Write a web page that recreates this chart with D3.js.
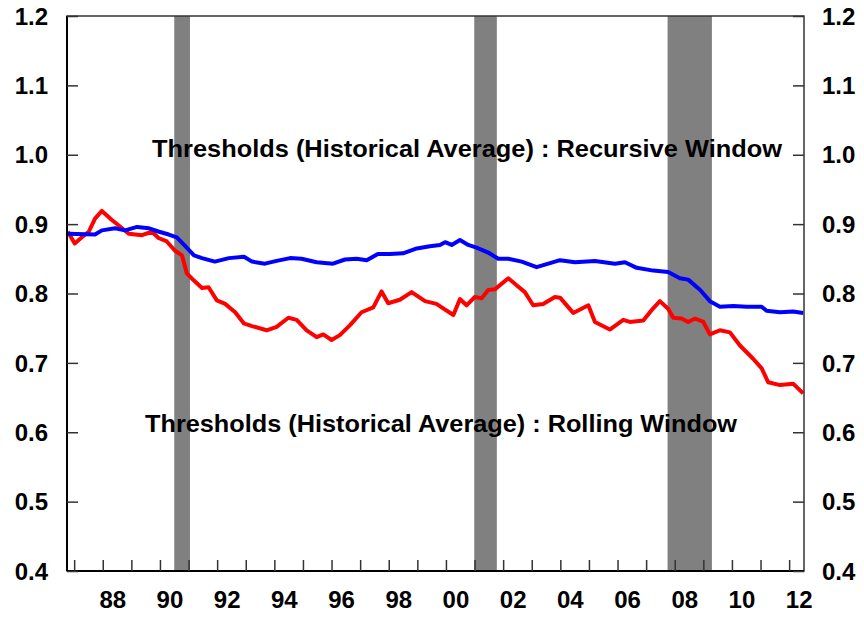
<!DOCTYPE html>
<html>
<head>
<meta charset="utf-8">
<script src="https://cdnjs.cloudflare.com/ajax/libs/d3/7.8.5/d3.min.js"></script>
<style>
  body { margin: 0; background: #fff; }
  svg text { font-family: 'Liberation Sans', Arial, sans-serif; font-weight: bold; fill: #000; }
</style>
</head>
<body>
<svg width="864" height="620"></svg>
<script>

// decimal year, threshold value
let recursive = [
    [1986.78, 0.886], [1987.73, 0.885], [1987.97, 0.891], [1988.43, 0.894], [1988.78, 0.891],
    [1989.20, 0.896], [1989.62, 0.894], [1989.97, 0.889], [1990.31, 0.885], [1990.59, 0.881],
    [1990.87, 0.869], [1991.19, 0.855], [1991.47, 0.851], [1991.92, 0.846], [1992.41, 0.851],
    [1992.94, 0.853], [1993.22, 0.846], [1993.67, 0.843], [1994.08, 0.847], [1994.55, 0.851],
    [1994.95, 0.850], [1995.48, 0.845], [1996.05, 0.843], [1996.47, 0.849], [1996.88, 0.850],
    [1997.23, 0.848], [1997.62, 0.857], [1998.04, 0.857], [1998.50, 0.858], [1998.98, 0.865],
    [1999.44, 0.868], [1999.79, 0.870], [1999.97, 0.874], [2000.20, 0.870], [2000.49, 0.877],
    [2000.78, 0.870], [2001.07, 0.866], [2001.48, 0.859], [2001.83, 0.850], [2002.18, 0.850],
    [2002.65, 0.846], [2003.17, 0.838], [2003.58, 0.843], [2003.99, 0.848], [2004.51, 0.845],
    [2005.21, 0.847], [2005.91, 0.843], [2006.26, 0.845], [2006.67, 0.837], [2007.25, 0.833],
    [2007.77, 0.831], [2008.18, 0.822], [2008.47, 0.820], [2008.89, 0.805], [2009.23, 0.789],
    [2009.58, 0.781], [2010.05, 0.782], [2010.51, 0.781], [2011.04, 0.781], [2011.21, 0.775],
    [2011.68, 0.773], [2012.14, 0.774], [2012.49, 0.772]
];

let rolling = [
    [1986.78, 0.889], [1987.02, 0.872], [1987.27, 0.881], [1987.51, 0.889], [1987.73, 0.908],
    [1987.97, 0.919], [1988.32, 0.906], [1988.56, 0.898], [1988.91, 0.886], [1989.37, 0.884],
    [1989.72, 0.889], [1989.95, 0.880], [1990.24, 0.875], [1990.52, 0.862], [1990.77, 0.855],
    [1990.94, 0.829], [1991.18, 0.819], [1991.47, 0.808], [1991.70, 0.809], [1991.99, 0.790],
    [1992.28, 0.785], [1992.63, 0.773], [1992.93, 0.757], [1993.22, 0.753], [1993.73, 0.747],
    [1994.08, 0.752], [1994.49, 0.765], [1994.78, 0.762], [1995.13, 0.747], [1995.48, 0.737],
    [1995.71, 0.741], [1996.00, 0.733], [1996.29, 0.740], [1996.64, 0.754], [1997.05, 0.773],
    [1997.46, 0.780], [1997.75, 0.803], [1997.98, 0.786], [1998.39, 0.791], [1998.80, 0.802],
    [1999.27, 0.789], [1999.67, 0.785], [1999.85, 0.780], [2000.26, 0.769], [2000.49, 0.792],
    [2000.72, 0.783], [2001.01, 0.795], [2001.25, 0.793], [2001.48, 0.805], [2001.71, 0.806],
    [2002.18, 0.822], [2002.47, 0.812], [2002.76, 0.802], [2003.05, 0.783], [2003.40, 0.785],
    [2003.81, 0.795], [2003.99, 0.794], [2004.45, 0.772], [2004.98, 0.783], [2005.21, 0.759],
    [2005.73, 0.748], [2006.20, 0.762], [2006.43, 0.759], [2006.90, 0.761], [2007.19, 0.776],
    [2007.48, 0.789], [2007.77, 0.778], [2007.95, 0.765], [2008.24, 0.764], [2008.47, 0.759],
    [2008.71, 0.764], [2009.00, 0.759], [2009.23, 0.741], [2009.58, 0.747], [2009.93, 0.744],
    [2010.28, 0.725], [2010.74, 0.706], [2011.04, 0.692], [2011.27, 0.672], [2011.68, 0.668],
    [2012.14, 0.670], [2012.49, 0.656]
];

let recessions = [[1990.50, 1991.05], [2000.99, 2001.78], [2007.75, 2009.30]];

let yTicks = [0.4, 0.5, 0.6, 0.7, 0.8, 0.9, 1.0, 1.1, 1.2];
let yearTicks = d3.range(1987, 2013);
let yearLabels = [1988, 1990, 1992, 1994, 1996, 1998, 2000, 2002, 2004, 2006, 2008, 2010, 2012];

let svg = d3.select('svg');
let margin = { top: 16, right: 60, bottom: 49, left: 67 };
let width = +svg.attr('width');
let height = +svg.attr('height');

let x = d3.scaleLinear()
    .domain([1986.75, 2012.52])
    .range([margin.left, width - margin.right]);

let y = d3.scaleLinear()
    .domain([0.4, 1.2])
    .range([height - margin.bottom, margin.top]);

// recession shading
svg.selectAll('rect.rec')
    .data(recessions)
    .enter().append('rect')
    .attr('class', 'rec')
    .attr('x', d => x(d[0]))
    .attr('width', d => x(d[1]) - x(d[0]))
    .attr('y', y(1.2))
    .attr('height', y(0.4) - y(1.2))
    .style('fill', '#808080');

let line = d3.line()
    .x(d => x(d[0]))
    .y(d => y(d[1]));

svg.append('path')
    .datum(rolling)
    .attr('d', line)
    .style('fill', 'none')
    .style('stroke', '#ff0000')
    .style('stroke-width', 4)
    .style('stroke-linejoin', 'round');

svg.append('path')
    .datum(recursive)
    .attr('d', line)
    .style('fill', 'none')
    .style('stroke', '#0000ff')
    .style('stroke-width', 4)
    .style('stroke-linejoin', 'round');

// frame
svg.append('rect')
    .attr('x', x.range()[0])
    .attr('y', y.range()[1])
    .attr('width', x.range()[1] - x.range()[0])
    .attr('height', y.range()[0] - y.range()[1])
    .style('fill', 'none')
    .style('stroke', '#333')
    .style('stroke-width', 1.5);

svg.append('line')
    .attr('x1', x.range()[0]).attr('x2', x.range()[0])
    .attr('y1', y.range()[1]).attr('y2', y.range()[0])
    .style('stroke', '#000').style('stroke-width', 2);
svg.append('line')
    .attr('x1', x.range()[0]).attr('x2', x.range()[1])
    .attr('y1', y.range()[0]).attr('y2', y.range()[0])
    .style('stroke', '#000').style('stroke-width', 2);

// y axes, ticks pointing inward
let yLeft = svg.append('g')
    .attr('transform', 'translate(' + x.range()[0] + ',0)')
    .call(d3.axisRight(y).tickValues(yTicks).tickSize(11).tickFormat(''));
let yRight = svg.append('g')
    .attr('transform', 'translate(' + x.range()[1] + ',0)')
    .call(d3.axisLeft(y).tickValues(yTicks).tickSize(11).tickFormat(''));

// x axis, ticks pointing up
let xAxis = svg.append('g')
    .attr('transform', 'translate(0,' + y.range()[0] + ')')
    .call(d3.axisTop(x).tickValues(yearTicks).tickSize(11).tickFormat(''));

[yLeft, yRight, xAxis].forEach(g => {
    g.select('.domain').remove();
    g.selectAll('.tick line').style('stroke', '#333').style('stroke-width', 1.5);
});

let fmt = d3.format('.1f');

svg.selectAll('text.yl')
    .data(yTicks)
    .enter().append('text')
    .attr('class', 'yl')
    .attr('x', 48)
    .attr('y', d => y(d))
    .attr('dy', '0.36em')
    .attr('text-anchor', 'end')
    .style('font-size', '24px')
    .text(d => fmt(d));

svg.selectAll('text.yr')
    .data(yTicks)
    .enter().append('text')
    .attr('class', 'yr')
    .attr('x', 822)
    .attr('y', d => y(d))
    .attr('dy', '0.36em')
    .attr('text-anchor', 'start')
    .style('font-size', '24px')
    .text(d => fmt(d));

svg.selectAll('text.xl')
    .data(yearLabels)
    .enter().append('text')
    .attr('class', 'xl')
    .attr('x', d => x(d + 0.35))
    .attr('y', 608)
    .attr('text-anchor', 'middle')
    .style('font-size', '24px')
    .text(d => String(d % 100).padStart(2, '0'));

svg.append('text')
    .attr('x', 152)
    .attr('y', 157)
    .attr('textLength', 630)
    .attr('lengthAdjust', 'spacingAndGlyphs')
    .style('font-size', '24px')
    .text('Thresholds (Historical Average) : Recursive Window');

svg.append('text')
    .attr('x', 145)
    .attr('y', 432)
    .attr('textLength', 592)
    .attr('lengthAdjust', 'spacingAndGlyphs')
    .style('font-size', '24px')
    .text('Thresholds (Historical Average) : Rolling Window');

</script>
</body>
</html>
